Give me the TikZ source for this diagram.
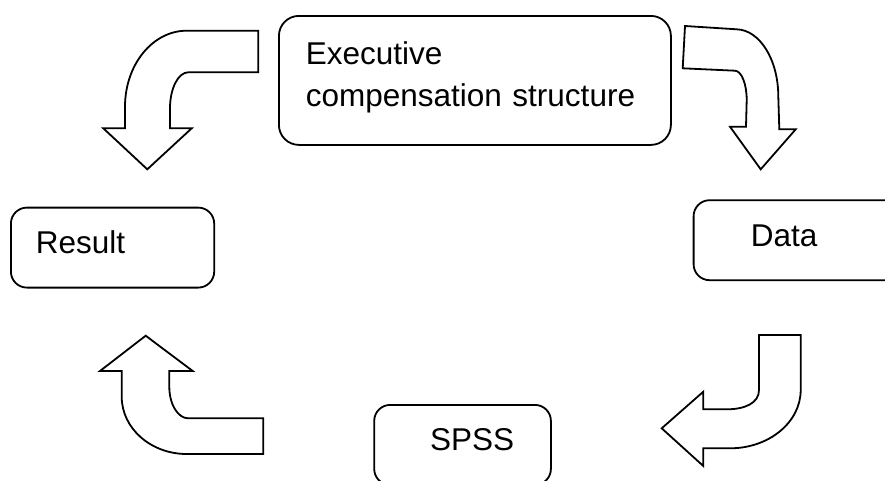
\documentclass[tikz,border=0pt]{standalone}
\usepackage{fontspec}
\setmainfont{Liberation Sans}
\tikzstyle{stagebox} = [rectangle, rounded corners=16pt, draw=black, line width=1.8pt, fill=white,
                        anchor=north west, inner ysep=0pt, font=\fontsize{31.5pt}{42pt}\selectfont]
\tikzstyle{linebox} = [stagebox, text height=46pt, text depth=34pt]
\tikzstyle{blockarrow} = [draw=black, line width=1.8pt, fill=white, line join=miter]

\begin{document}
\begin{tikzpicture}[x=1pt, y=-1pt]
    \useasboundingbox (0,0) rectangle (885,480);

    % Boxes
    \node[stagebox, rounded corners=20pt, text height=48.3pt, text depth=80.7pt,
          inner xsep=27pt, text width=338pt, align=left] (exec) at (278,15)
          {Executive\\compensation structure};
    \node[linebox, inner xsep=25pt, text width=153.3pt, align=left] (result) at (10,206.7) {Result};
    \node[linebox, inner xsep=57.3pt, text width=150pt, align=left] (data) at (692.7,199.3) {Data};
    \node[linebox, inner xsep=36.7pt, text width=103.3pt, align=right] (spss) at (373.3,404) {SPSS};

    % Arrow: exec -> result
    \draw[blockarrow] (258.3,30.7) -- (186.7,30.7) .. controls (152.6,30.7) and (125,64.7) .. (125,106.7)
        -- (125,128.3) -- (103.3,128.3) -- (147.3,169.3) -- (191.7,128.3) -- (170,128.3) -- (170,108.3)
        .. controls (170,88.4) and (178.2,72.3) .. (188.3,72.3) -- (258.3,72.3) -- cycle;

    % Arrow: exec -> data
    \draw[blockarrow] (685,26) -- (736.7,29.3) .. controls (759.7,30) and (778.3,59.5) .. (778.3,96.7)
        -- (779.3,129.3) -- (795.7,129.3) -- (760.7,169.3) -- (730,126.7) -- (746,126.7) -- (746.7,100)
        .. controls (746.7,83.8) and (741.5,71) .. (735,70.7) -- (682.7,68.3) -- cycle;

    % Arrow: data -> spss
    \draw[blockarrow] (759,335) -- (800.7,335) -- (800.7,390) .. controls (800.7,422.2) and (769,448.3) .. (730,448.3)
        -- (703.3,448.3) -- (703.3,466) -- (661.7,428.3) -- (703.3,391.7) -- (703.3,409.3) -- (726.7,409.3)
        .. controls (745,409.3) and (759,403) .. (759,390) -- cycle;

    % Arrow: spss -> result
    \draw[blockarrow] (263.3,418.3) -- (188.3,418.3) .. controls (177.8,418.3) and (169.3,404.1) .. (169.3,386.7)
        -- (169.3,371) -- (192.7,371) -- (145.7,335.7) -- (100,371) -- (121.7,371) -- (121.7,396.7)
        .. controls (121.7,428.3) and (150.8,454) .. (186.7,454) -- (263.3,454) -- cycle;
\end{tikzpicture}
\end{document}
